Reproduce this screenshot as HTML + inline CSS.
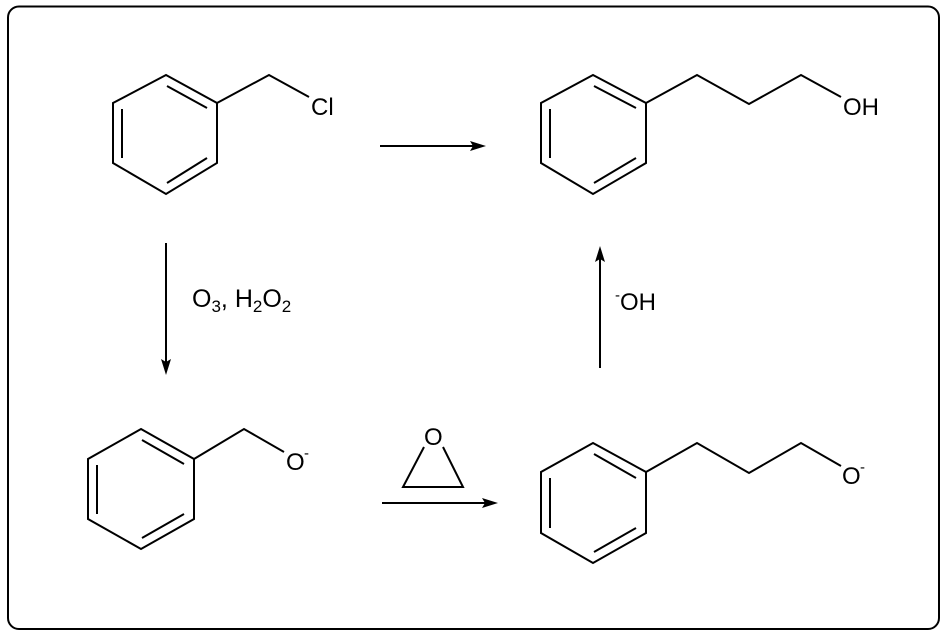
<!DOCTYPE html>
<html><head><style>
html,body{margin:0;padding:0;background:#fff;}
svg{display:block;}
text{font-family:"Liberation Sans",Arial,sans-serif;fill:#000;}
</style></head><body>
<svg width="946" height="636" viewBox="0 0 946 636">
<rect x="8" y="6.5" width="931" height="622.5" rx="11" fill="#fff" stroke="#000" stroke-width="2"/>
<g stroke="#000" stroke-width="2" fill="none" stroke-linejoin="miter">
<polygon points="166,75 217,103 217,163 166,194 113,163 113,103"/>
<line x1="167" y1="86" x2="207" y2="108"/>
<line x1="122" y1="109" x2="122" y2="158"/>
<line x1="167" y1="183" x2="207" y2="158"/>
<polyline points="217,103 269,75 309,97"/>
<polygon points="593,75 646,103 646,163 593,194 541,163 541,103"/>
<line x1="594" y1="86" x2="636" y2="108"/>
<line x1="550" y1="109" x2="550" y2="158"/>
<line x1="594" y1="183" x2="636" y2="158"/>
<polyline points="646,103 697,75 749,104 801,75 841,97"/>
<polygon points="141,429 194,459 194,519 141,549 88,519 88,459"/>
<line x1="142" y1="440" x2="184" y2="464"/>
<line x1="97" y1="465" x2="97" y2="514"/>
<line x1="142" y1="538" x2="184" y2="514"/>
<polyline points="194,459 244,429 284,452"/>
<polygon points="593,443 646,472 646,533 593,563 541,533 541,472"/>
<line x1="594" y1="454" x2="636" y2="478"/>
<line x1="550" y1="478" x2="550" y2="528"/>
<line x1="594" y1="552" x2="636" y2="528"/>
<polyline points="646,472 697,443 749,473 801,443 841,466"/>
<polyline points="424,447 403,487 463,487 443,447"/>
<line x1="380" y1="146" x2="474" y2="146"/>
<line x1="166" y1="243" x2="166" y2="362"/>
<line x1="600" y1="368" x2="600" y2="258"/>
<line x1="382" y1="503" x2="486" y2="503"/>
</g>
<g fill="#000">
<polygon points="486,146 470,141 473,146 470,151"/>
<polygon points="166,375 161,359 166,362 171,359"/>
<polygon points="600,246 595,262 600,259 605,262"/>
<polygon points="498,503 482,498 485,503 482,508"/>
</g>
<text x="311" y="115" font-size="24">Cl</text>
<text x="843" y="115" font-size="24">OH</text>
<text x="286" y="470" font-size="24">O</text><text x="304" y="458" font-size="15">-</text>
<text x="842" y="484" font-size="24">O</text><text x="860" y="472" font-size="15">-</text>
<text x="424" y="445" font-size="24">O</text>
<text x="192" y="307" font-size="25">O<tspan font-size="17" dy="5">3</tspan><tspan dy="-5">, H</tspan><tspan font-size="17" dy="5">2</tspan><tspan dy="-5">O</tspan><tspan font-size="17" dy="5">2</tspan></text>
<text x="615" y="310" font-size="24"><tspan font-size="15" dy="-10">-</tspan><tspan dy="10">OH</tspan></text>
</svg>
</body></html>
